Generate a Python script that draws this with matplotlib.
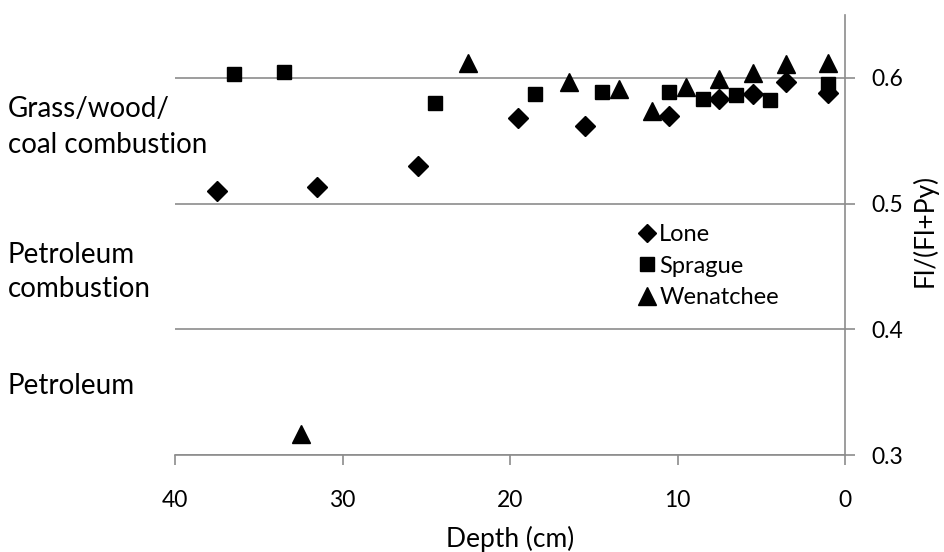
import matplotlib.pyplot as plt
from matplotlib.lines import Line2D

plt.rcParams["font.family"] = ["Lato", "DejaVu Sans"]

# depth (cm) and Fl/(Fl+Py) ratio per lake
lone_depth = [37.5, 31.5, 25.5, 19.5, 15.5, 10.5, 7.5, 5.5, 3.5, 1.0]
lone_ratio = [0.510, 0.513, 0.530, 0.568, 0.562, 0.570, 0.583, 0.587, 0.597, 0.588]

sprague_depth = [36.5, 33.5, 24.5, 18.5, 14.5, 10.5, 8.5, 6.5, 4.5, 1.0]
sprague_ratio = [0.603, 0.605, 0.580, 0.587, 0.589, 0.589, 0.583, 0.586, 0.582, 0.595]

wen_depth = [32.5, 22.5, 16.5, 13.5, 11.5, 9.5, 7.5, 5.5, 3.5, 1.0]
wen_ratio = [0.317, 0.612, 0.597, 0.591, 0.574, 0.593, 0.599, 0.604, 0.611, 0.612]

x_ticks = [40, 30, 20, 10, 0]
y_ticks = [0.3, 0.4, 0.5, 0.6]

# source regions written to the left of the plot (text, baseline in px)
region_lines = [
    ("Grass/wood/", 117),
    ("coal combustion", 153),
    ("Petroleum", 263),
    ("combustion", 297),
    ("Petroleum", 394),
]

W, H = 944, 552
fig = plt.figure(figsize=(W / 100, H / 100), dpi=100)
ax = fig.add_axes([175 / W, 1 - 455 / H, (845 - 175) / W, (455 - 15) / H])

grid_col = "#8c8c8c"

ax.plot(lone_depth, lone_ratio, linestyle="none", marker="D", ms=10,
        color="black", label="Lone", clip_on=False, zorder=3)
ax.plot(sprague_depth, sprague_ratio, linestyle="none", marker="s", ms=10,
        color="black", label="Sprague", clip_on=False, zorder=4)
ax.plot(wen_depth, wen_ratio, linestyle="none", marker="^", ms=13,
        color="black", label="Wenatchee", clip_on=False, zorder=5)

ax.set_xlim(40, 0)
ax.set_ylim(0.3, 0.65)
ax.set_xticks(x_ticks)
ax.set_yticks(y_ticks)
ax.set_yticklabels([f"{v:.1f}" for v in y_ticks])

ax.yaxis.tick_right()
ax.yaxis.set_label_position("right")
ax.grid(axis="y", color=grid_col, linewidth=1.2)
ax.set_axisbelow(True)

for s in ["left", "top"]:
    ax.spines[s].set_visible(False)
for s in ["right", "bottom"]:
    ax.spines[s].set_color(grid_col)
    ax.spines[s].set_linewidth(1.2)

ax.tick_params(axis="both", colors=grid_col, labelcolor="black",
               labelsize=16.5, width=1.2, length=7, direction="out")
ax.tick_params(axis="x", pad=18)
ax.tick_params(axis="y", pad=12)

ax.set_xlabel("Depth (cm)", fontsize=19, va="baseline", ha="center")
ax.xaxis.set_label_coords(0.5, (455 - 547) / 440)
ax.set_ylabel("Fl/(Fl+Py)", fontsize=19, va="center", ha="center")
ax.yaxis.set_label_coords((925 - 175) / 670, (455 - 230) / 440)

for txt, base in region_lines:
    fig.text(8 / W, 1 - base / H, txt, fontsize=20, ha="left", va="baseline")

handles = [
    Line2D([], [], linestyle="none", marker="D", ms=9, color="black"),
    Line2D([], [], linestyle="none", marker="s", ms=10, color="black"),
    Line2D([], [], linestyle="none", marker="^", ms=13, color="black"),
]
ax.legend(handles, ["Lone", "Sprague", "Wenatchee"], loc="upper left",
          bbox_to_anchor=(638 / W, 1 - 224 / H), bbox_transform=fig.transFigure,
          frameon=False, fontsize=17, handlelength=0.8, handletextpad=0.1,
          labelspacing=0.45, borderpad=0, borderaxespad=0)

fig.savefig("out.png", dpi=100)
